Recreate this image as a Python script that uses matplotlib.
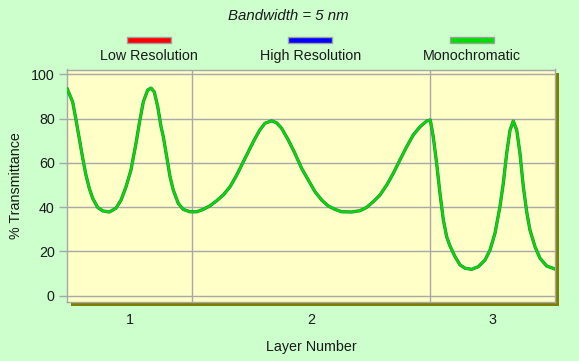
import matplotlib.pyplot as plt
import matplotlib.patheffects as pe
from matplotlib.patches import Rectangle

# depth through the stack, in units of the first layer's thickness
depth = [0.000, 0.043, 0.070, 0.096, 0.124, 0.150, 0.177, 0.204, 0.244, 0.285,
         0.338, 0.391, 0.432, 0.472, 0.512, 0.552, 0.579, 0.611, 0.646, 0.673,
         0.699, 0.727, 0.753, 0.772, 0.799, 0.826, 0.852, 0.892, 0.932, 0.986,
         1.040, 1.093, 1.147, 1.201, 1.254, 1.308, 1.362, 1.415, 1.469, 1.509,
         1.549, 1.589, 1.643, 1.683, 1.723, 1.777, 1.830, 1.884, 1.937, 1.991,
         2.045, 2.098, 2.152, 2.206, 2.286, 2.353, 2.407, 2.460, 2.514, 2.568,
         2.621, 2.674, 2.728, 2.781, 2.835, 2.889, 2.918, 2.942, 2.969, 2.996,
         3.023, 3.050, 3.076, 3.117, 3.157, 3.197, 3.251, 3.304, 3.358, 3.398,
         3.438, 3.478, 3.505, 3.532, 3.559, 3.585, 3.613, 3.639, 3.666, 3.693,
         3.719, 3.760, 3.800, 3.854, 3.923]
transmittance = [93.3, 87.6, 79.4, 71.1, 62.1, 54.5, 48.5, 44.0, 39.9, 38.3,
                 37.8, 39.5, 43.2, 49.2, 56.8, 68.8, 77.9, 87.6, 92.9, 93.8,
                 92.1, 85.4, 76.5, 71.8, 62.8, 53.7, 47.7, 41.7, 39.0, 37.9,
                 37.9, 39.0, 40.6, 42.9, 45.5, 49.2, 54.5, 60.5, 66.6, 71.0,
                 75.0, 77.9, 79.0, 78.1, 75.6, 70.3, 64.3, 57.5, 52.3, 47.0,
                 43.2, 40.5, 39.0, 37.9, 37.8, 38.4, 39.9, 42.5, 45.5, 50.0,
                 55.3, 61.3, 67.3, 72.6, 76.3, 78.9, 79.4, 71.8, 59.8, 46.2,
                 34.2, 26.6, 22.5, 17.6, 13.9, 12.4, 11.9, 13.1, 16.1, 20.6,
                 28.2, 40.2, 50.8, 64.3, 74.8, 78.9, 74.8, 64.3, 49.2, 37.9,
                 29.7, 22.1, 16.9, 13.4, 12.0]

layer_edges = [0.0, 1.0, 2.918, 3.923]
layer_names = ['1', '2', '3']
series = ['Low Resolution', 'High Resolution', 'Monochromatic']
colors = ['#FF0000', '#0000FF', '#00DD00']
yticks = [0, 20, 40, 60, 80, 100]

W, H = 579, 361
txt = '#1a1a1a'
grid = '#A8A8A8'
plt.rcParams['font.family'] = ['Liberation Sans', 'DejaVu Sans']
plt.rcParams['font.size'] = 10.3

fig = plt.figure(figsize=(W / 100, H / 100), dpi=100, facecolor='#CCFFCC')
x0, x1, y0, y1 = 67.3, 555.3, 69.5, 302.3  # plot box in pixels
ax = fig.add_axes([x0 / W, 1 - y1 / H, (x1 - x0) / W, (y1 - y0) / H])
ax.set_facecolor('#FFFFC8')

# drop shadow
fig.patches.append(Rectangle(((x0 + 4) / W, 1 - (y1 + 4) / H), (x1 - x0) / W, (y1 - y0) / H,
                             transform=fig.transFigure, facecolor='#808000',
                             edgecolor='none', zorder=-5))

# the three series coincide at this bandwidth, green ends up on top
ax.plot(depth, transmittance, color=colors[0], lw=1.5, zorder=3)
ax.plot(depth, transmittance, color=colors[1], lw=1.5, zorder=4)
ax.plot(depth, transmittance, color=colors[2], lw=1.5, zorder=5,
        solid_joinstyle='round',
        path_effects=[pe.Stroke(linewidth=2.4, foreground='#3C8C55'), pe.Normal()])

ax.set_xlim(layer_edges[0], layer_edges[-1])
ax.set_ylim(-3, 102.2)
ax.set_yticks(yticks)
for v in yticks:
    ax.axhline(v, color=grid, lw=1, zorder=1)
for e in layer_edges[1:-1]:
    ax.axvline(e, color=grid, lw=1, zorder=1)

mids = [(a + b) / 2 for a, b in zip(layer_edges[:-1], layer_edges[1:])]
ax.set_xticks(mids)
ax.set_xticklabels(layer_names)
ax.tick_params(axis='x', length=0, pad=8, colors=txt, labelsize=10.3)
ax.tick_params(axis='y', length=6, width=1, color=grid, pad=3, labelcolor=txt, labelsize=10.3)
for s in ax.spines.values():
    s.set_color(grid)
    s.set_linewidth(1)

ax.set_xlabel('Layer Number', color=txt, labelpad=9)
ax.set_ylabel('% Transmittance', color=txt, labelpad=6)

fig.text(288.7 / W, 1 - 16 / H, 'Bandwidth = 5 nm', ha='center', va='center',
         style='italic', color=txt, fontsize=10.8)

# legend: colour bar above each label
for cx, name, c in zip([148.7, 310.3, 472.3], series, colors):
    fig.patches.append(Rectangle(((cx - 22) / W, 1 - 42.7 / H), 44 / W, 6 / H,
                                 transform=fig.transFigure, facecolor=c,
                                 edgecolor='#A0A0A0', lw=1))
    fig.text(cx / W, 1 - 56 / H, name, ha='center', va='center', color=txt)

fig.savefig('out.png', dpi=100, facecolor=fig.get_facecolor())
